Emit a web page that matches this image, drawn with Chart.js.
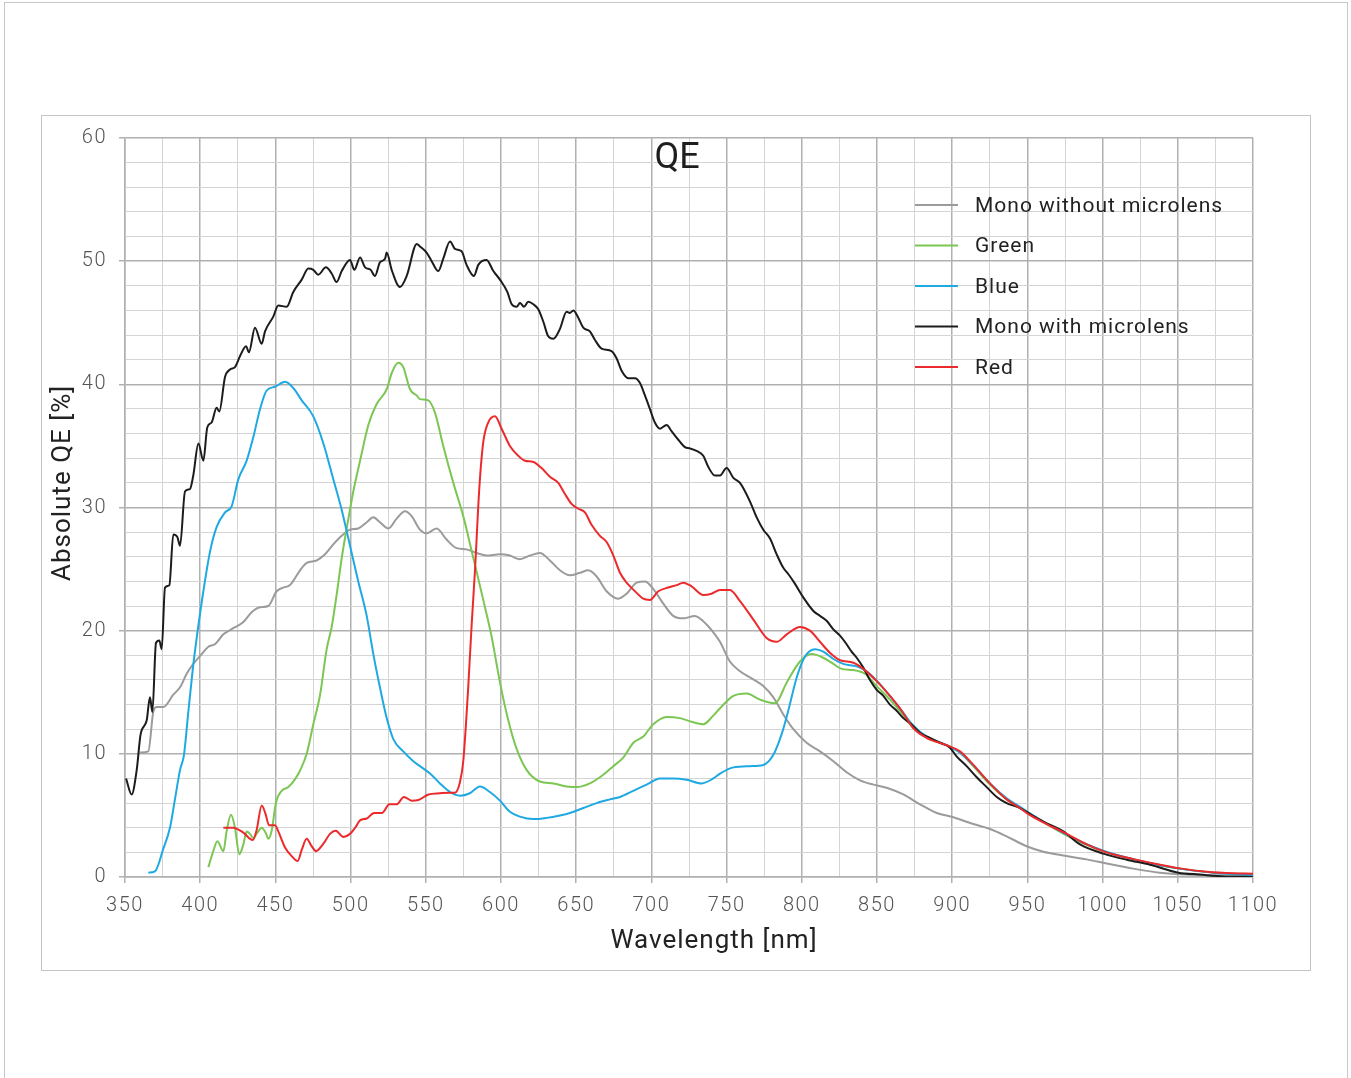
<!DOCTYPE html>
<html>
<head>
<meta charset="utf-8">
<title>QE</title>
<script src="https://cdn.jsdelivr.net/npm/chart.js@4.4.1/dist/chart.umd.min.js"></script>
<style>
  html, body { margin: 0; padding: 0; background: #fff; }
  #page { position: relative; width: 1351px; height: 1078px; overflow: hidden; }
  #outer { position: absolute; left: 4px; top: 2px; width: 1342px; height: 1100px; border: 1px solid #c8c8c8; }
  #inner { position: absolute; left: 41px; top: 115px; width: 1268px; height: 854px; border: 1px solid #c4c4c4; }
  canvas { position: absolute; left: 0; top: 0; }
</style>
</head>
<body>
<div id="page">
  <div id="outer"></div>
  <div id="inner"></div>
  <canvas id="qeChart" width="1351" height="1078"></canvas>
</div>
<script>
/* QE curves, values (wavelength nm, QE %) */
const monoNoLensNm = [360,365.5,368.8,371.1,375.5,382.1,386.6,391,395.4,401,405.4,409.8,415.4,422,428.7,434.2,439.8,445.3,450.8,455.3,459.7,466.4,470.8,477.4,483,488.5,494.1,499.6,505.1,510.7,515.1,519.5,525.1,530.6,536.2,540.6,546.1,550.5,557.2,563.8,570.5,577.1,583.8,590.4,599.3,605.9,612.6,619.2,625.9,632.5,639.2,645.8,652.5,658,663.6,670.2,678,683.5,690.2,695.7,701.2,707.9,714.5,721.2,728.9,736.7,742.2,745.6,752.2,758.9,767.8,774.4,781,787.7,794.4,803.2,812.1,821,829.8,838.7,847.6,856.4,867.5,878.6,889.7,900.8,914,925.1,936.2,949.5,960.6,973.9,989.4,1002.7,1020.4,1038.2,1055.9,1078,1100];
const monoNoLensQE = [10.1,10.2,13.4,13.8,13.8,14.8,15.4,16.5,17.3,18.1,18.7,18.9,19.7,20.2,20.7,21.5,21.9,22.0,23.2,23.5,23.7,24.9,25.5,25.7,26.2,27.0,27.7,28.2,28.3,28.8,29.2,28.8,28.3,29.1,29.7,29.3,28.2,27.9,28.3,27.4,26.7,26.6,26.3,26.1,26.2,26.1,25.8,26.1,26.3,25.7,24.9,24.5,24.7,24.9,24.4,23.2,22.6,23.0,23.9,24.0,23.4,22.2,21.2,21.0,21.2,20.5,19.7,19.1,17.5,16.7,16.05,15.5,14.6,13.2,12.0,10.9,10.2,9.4,8.5,7.85,7.5,7.25,6.7,5.9,5.2,4.85,4.3,3.9,3.3,2.5,2.05,1.75,1.43,1.1,0.68,0.35,0.2,0.13,0.1];

const greenNm = [405.4,408.7,411.4,415.4,417.6,420.5,423.1,426,428.7,430.9,433.1,435.3,438,440.9,443.5,445.3,447.5,450.4,454.2,458.6,463.1,466.4,470.8,475.2,479.7,484.1,487.4,490.7,494.1,497.4,501.8,506.3,511.8,517.3,524,527.3,531.7,535,539.5,543.9,546.1,551.6,556.1,561.6,568.3,574.9,581.6,588.2,593.8,599.3,604.8,610.4,617,625.9,634.8,643.6,650.3,659.1,666.9,674.7,681.3,688,694.6,701.2,710.1,719,726.7,734.5,741.1,745.6,754.5,763.3,772.2,782.2,790,798.8,806.6,814.3,821,826.5,834.3,842,849.8,858.6,866.4,874.1,883,896.3,905.2,914,925.1,936.2,945.1,950,975,1000,1025,1050,1075,1100];
const greenQE = [0.8,2.1,2.9,2.1,3.75,5.05,4.0,1.85,2.65,3.7,3.5,3.15,3.6,4.0,3.6,3.1,3.75,6.05,7.0,7.3,7.95,8.65,10.0,12.4,14.8,18.5,20.3,22.9,25.9,28.3,31.3,33.8,36.7,38.4,39.6,40.9,41.75,41.4,39.6,39.1,38.8,38.7,37.7,35.0,32.0,29.3,25.9,22.5,19.5,15.8,12.75,10.4,8.7,7.75,7.6,7.35,7.3,7.6,8.2,9.0,9.7,10.9,11.4,12.4,13.0,12.9,12.6,12.4,13.1,13.7,14.7,14.9,14.4,14.1,15.8,17.5,18.1,17.8,17.3,16.9,16.8,16.5,15.5,14.4,13.3,12.1,11.3,10.7,10.1,9.0,7.5,6.3,5.6,5.25,3.45,2.1,1.3,0.7,0.35,0.22];

const blueNm = [365.5,369.9,375.5,379.9,383.2,386.6,389.2,392.1,395,398.1,402.1,406.5,410.9,416.5,420.9,425.4,430.9,435.3,439.8,444.2,449.7,456.4,461.9,467.5,475.2,481.9,488.5,494.1,499.6,505.1,510.7,515.1,519.5,524,528.4,535,541.7,546.1,552.8,559.4,566.1,572.7,579.3,586,592.6,599.3,605.9,612.6,621.5,630.3,639.2,645.8,654.7,663.6,672.4,679.1,688,696.8,705.7,714.5,723.4,733.4,741.1,745.6,754.5,765.5,774.4,781,786.6,791,796.6,802.1,808.8,814.3,821,827.6,836.5,843.1,850.9,858.6,866.4,874.1,883,896.3,905.2,914,925.1,936.2,945.1,950,975,1000,1025,1050,1075,1100];
const blueQE = [0.35,0.45,2.3,4.0,6.3,8.7,9.9,13.4,16.8,19.8,23.2,26.4,28.4,29.6,30.1,32.3,33.8,35.7,38.0,39.5,39.8,40.2,39.7,38.7,37.4,35.2,32.3,29.8,26.9,24.0,21.2,18.1,15.4,12.9,11.2,10.2,9.4,9.0,8.4,7.6,6.9,6.6,6.8,7.35,6.9,6.2,5.3,4.9,4.7,4.8,5.0,5.2,5.6,6.0,6.3,6.5,7.0,7.5,8.0,8.0,7.9,7.6,8.0,8.4,8.9,9.0,9.1,9.9,11.6,13.5,16.2,17.9,18.5,18.3,17.7,17.3,17.1,16.7,15.8,14.7,13.5,12.3,11.4,10.7,10.1,9.1,7.6,6.4,5.7,5.3,3.5,2.15,1.3,0.7,0.33,0.15];

const monoLensNm = [350.7,354.4,357.8,360.4,364.4,366.6,368.2,370.6,372.8,374.4,376.6,379.5,382.1,384.8,386.6,389.9,393.2,395.4,398.8,402.1,404.7,407.6,410.9,412.7,416.5,419.8,423.1,426.5,430.5,432.4,436.4,440.9,443.1,448.6,451.9,457.5,461.9,467.5,471.9,475.2,478.5,483.6,487.4,490.7,494.1,499.6,502.5,506.3,509.6,513.3,516.2,519.5,522.9,524,527.3,532.8,537.3,544,546.1,550.5,553.9,558.3,561.6,566.1,569.4,573.8,577.1,582,584.9,590.4,594.9,599.3,604.2,607.1,610.4,612.6,615.3,618.1,621.5,624.8,628.1,631.4,634.8,639.2,643.6,645.8,648.1,651.4,654.7,659.1,662.5,666.9,673.5,676.9,680.2,684.6,689.1,692.4,695.7,699,702.3,705.7,710.1,713.4,717.9,722.3,725.6,730,734.5,737.8,742.2,745.6,750,754.5,758.9,765.5,770,774.4,778.8,783.3,787.7,791,795.5,801,807.7,812.1,816.5,821,825.4,829.8,833.1,836.5,840.9,845.3,849.8,854.2,858.6,863.1,867.5,871.9,878.6,885.2,891.9,898.5,902.9,909.6,916.3,922.9,929.6,936.2,945.1,950.6,960.6,973.9,985,1000.5,1016,1031.5,1050.4,1064.8,1080.3,1100];
const monoLensQE = [8.0,6.7,8.7,11.6,12.7,14.6,13.4,19.0,19.2,18.5,23.5,23.7,27.8,27.6,26.9,31.3,31.5,32.6,35.2,33.8,36.5,36.9,38.1,37.8,40.6,41.2,41.4,42.3,43.1,42.6,44.6,43.3,44.3,45.5,46.4,46.3,47.5,48.5,49.4,49.3,48.9,49.5,49.0,48.3,49.2,50.1,49.3,50.3,49.5,49.3,48.8,49.9,50.2,50.7,49.3,47.9,48.8,51.4,51.2,50.7,50.0,49.2,50.2,51.6,51.0,50.8,49.7,48.8,49.7,50.1,49.2,48.5,47.5,46.5,46.3,46.6,46.3,46.7,46.5,46.1,45.1,43.9,43.7,44.5,45.9,45.8,46.0,45.4,44.6,44.3,43.6,42.9,42.7,42.1,41.1,40.5,40.5,40.1,39.1,38.0,36.9,36.4,36.7,36.2,35.5,34.9,34.8,34.6,34.2,33.3,32.6,32.6,33.2,32.4,32.0,30.5,29.2,28.2,27.5,26.2,25.1,24.6,23.8,22.7,21.6,21.2,20.8,20.1,19.6,18.9,18.3,17.8,17.0,16.0,15.2,14.7,14.0,13.5,12.9,12.5,11.7,11.3,10.9,10.5,9.8,9.0,8.1,7.3,6.5,6.0,5.6,5.2,4.5,3.7,2.65,1.9,1.4,1.0,0.35,0.2,0.05,0.0];

const redNm = [415.4,422,428.7,434.9,437.5,440.9,443.5,445.7,449.7,451.9,456.4,460.8,464.8,467.5,470.8,474.1,477,481.9,486.3,490.1,495.2,499.6,503,506.3,510.7,515.6,520.8,525.8,530.6,535.5,540.6,545,551.7,559.4,566.1,569.4,572.7,574.9,578.2,580.5,582.7,585.6,588.2,591.5,596,600.4,605.9,611.5,615.9,621.5,627,632.5,638.1,642.5,646.9,651.4,655.8,660.2,665.8,670.2,674.7,679.1,683.5,689.1,694.6,699,704.6,711.2,716.8,721.2,726.7,734.5,740,745.6,752.2,758.9,767.8,776.6,783.3,790,798.8,805.4,812.1,818.7,825.4,834.3,840.9,849.8,858.6,866.4,874.1,883,896.3,905.2,914,925.1,936.2,945.1,950.6,962.8,976.1,989.4,1002.7,1020.4,1038.2,1051.5,1069.2,1087,1100];
const redQE = [4.0,4.0,3.6,3.0,3.8,5.8,5.1,4.2,4.2,3.7,2.4,1.7,1.3,2.2,3.1,2.5,2.1,2.7,3.5,3.75,3.25,3.5,4.0,4.6,4.75,5.2,5.2,5.9,5.9,6.5,6.2,6.25,6.7,6.8,6.85,6.85,7.7,9.4,15.4,20.5,24.9,31.6,35.3,36.9,37.4,36.4,35.0,34.2,33.8,33.7,33.2,32.5,32.0,31.1,30.3,29.9,29.6,28.6,27.7,27.2,26.1,24.7,23.9,23.2,22.6,22.5,23.2,23.5,23.7,23.9,23.6,22.9,23.0,23.3,23.3,22.4,20.9,19.4,19.1,19.7,20.3,20.0,19.1,18.2,17.6,17.4,16.9,15.9,14.7,13.5,12.1,11.3,10.7,10.2,9.1,7.6,6.3,5.6,5.1,4.3,3.5,2.65,2.0,1.45,1.0,0.7,0.43,0.3,0.27];

const legendLabels = ["Mono without microlens", "Green", "Blue", "Mono with microlens", "Red"];
const seriesColors = ["#9b9b9b", "#7cc653", "#1fa9e2", "#1c1c1c", "#ec2a2c"];

const xTickStep = 25, xMajor = 50;
const yTickStep = 2, yMajor = 10;

const FONT = "Roboto, 'Noto Sans', sans-serif";

function toPoints(nm, qe) {
  return nm.map((x, i) => ({ x: x, y: qe[i] }));
}

/* the datasheet font is a wide DIN, so spread letters a little */
const spacingPlugin = {
  id: "spacing",
  beforeDraw(chart) {
    chart.ctx.letterSpacing = "1.5px";
  }
};

/* title, legend and axis titles are drawn inside the plot, like the datasheet */
const overlayPlugin = {
  id: "overlay",
  afterDraw(chart) {
    const ctx = chart.ctx;
    ctx.save();
    // title
    ctx.letterSpacing = "0px";
    ctx.fillStyle = "#1e1e1e";
    ctx.font = "400 36px " + FONT;
    ctx.textAlign = "center";
    ctx.textBaseline = "alphabetic";
    ctx.fillText("QE", 677, 168);

    // legend
    ctx.letterSpacing = "1px";
    ctx.font = "400 21px " + FONT;
    ctx.textAlign = "left";
    ctx.textBaseline = "middle";
    legendLabels.forEach((lab, i) => {
      const y = 205 + i * 40.5;
      ctx.strokeStyle = seriesColors[i];
      ctx.lineWidth = 2;
      ctx.beginPath();
      ctx.moveTo(915, y);
      ctx.lineTo(958, y);
      ctx.stroke();
      ctx.fillStyle = "#222";
      ctx.fillText(lab, 975, y + 1.5);
    });

    // axis titles
    ctx.letterSpacing = "1px";
    ctx.font = "400 26px " + FONT;
    ctx.textAlign = "center";
    ctx.fillStyle = "#222";
    ctx.fillText("Wavelength [nm]", 714, 941);
    ctx.translate(63, 483);
    ctx.rotate(-Math.PI / 2);
    ctx.fillText("Absolute QE [%]", 0, 0);
    ctx.restore();
  }
};

const datasets = [
  { label: legendLabels[0], data: toPoints(monoNoLensNm, monoNoLensQE), borderColor: seriesColors[0], order: 4 },
  { label: legendLabels[1], data: toPoints(greenNm, greenQE), borderColor: seriesColors[1], order: 3 },
  { label: legendLabels[2], data: toPoints(blueNm, blueQE), borderColor: seriesColors[2], order: 2 },
  { label: legendLabels[3], data: toPoints(monoLensNm, monoLensQE), borderColor: seriesColors[3], order: 1 },
  { label: legendLabels[4], data: toPoints(redNm, redQE), borderColor: seriesColors[4], order: 0 }
].map(d => Object.assign(d, {
  borderWidth: 2,
  pointRadius: 0,
  fill: false,
  cubicInterpolationMode: "monotone"
}));

const isMajorX = c => c.tick && c.tick.value % xMajor === 0;
const isMajorY = c => c.tick && c.tick.value % yMajor === 0;

new Chart(document.getElementById("qeChart").getContext("2d"), {
  type: "line",
  data: { datasets: datasets },
  options: {
    responsive: false,
    animation: false,
    devicePixelRatio: 1,
    layout: { padding: { left: 41, top: 138, right: 98, bottom: 141 } },
    plugins: {
      legend: { display: false },
      title: { display: false },
      tooltip: { enabled: false }
    },
    scales: {
      x: {
        type: "linear",
        min: 350,
        max: 1100,
        afterFit: s => { s.height = 60; },
        ticks: {
          stepSize: xTickStep,
          autoSkip: false,
          maxRotation: 0,
          padding: 11,
          color: "#555",
          font: { family: FONT, size: 20, weight: "300" },
          callback: v => (v % xMajor === 0 ? v : "")
        },
        grid: {
          color: c => (isMajorX(c) ? "#b0b0b0" : "#d4d4d4"),
          lineWidth: c => (isMajorX(c) ? 1.5 : 1),
          tickColor: c => (isMajorX(c) ? "#b0b0b0" : "rgba(0,0,0,0)"),
          tickLength: 6
        },
        border: { color: "#b0b0b0", width: 1.5 }
      },
      y: {
        type: "linear",
        min: 0,
        max: 60,
        afterFit: s => { s.width = 84; },
        ticks: {
          stepSize: yTickStep,
          autoSkip: false,
          padding: 12,
          color: "#555",
          font: { family: FONT, size: 20, weight: "300" },
          callback: v => (v % yMajor === 0 ? v : "")
        },
        grid: {
          color: c => (isMajorY(c) ? "#b0b0b0" : "#d4d4d4"),
          lineWidth: c => (isMajorY(c) ? 1.5 : 1),
          tickColor: c => (isMajorY(c) ? "#b0b0b0" : "rgba(0,0,0,0)"),
          tickLength: 6
        },
        border: { color: "#b0b0b0", width: 1.5 }
      }
    }
  },
  plugins: [spacingPlugin, overlayPlugin]
});
</script>
</body>
</html>
